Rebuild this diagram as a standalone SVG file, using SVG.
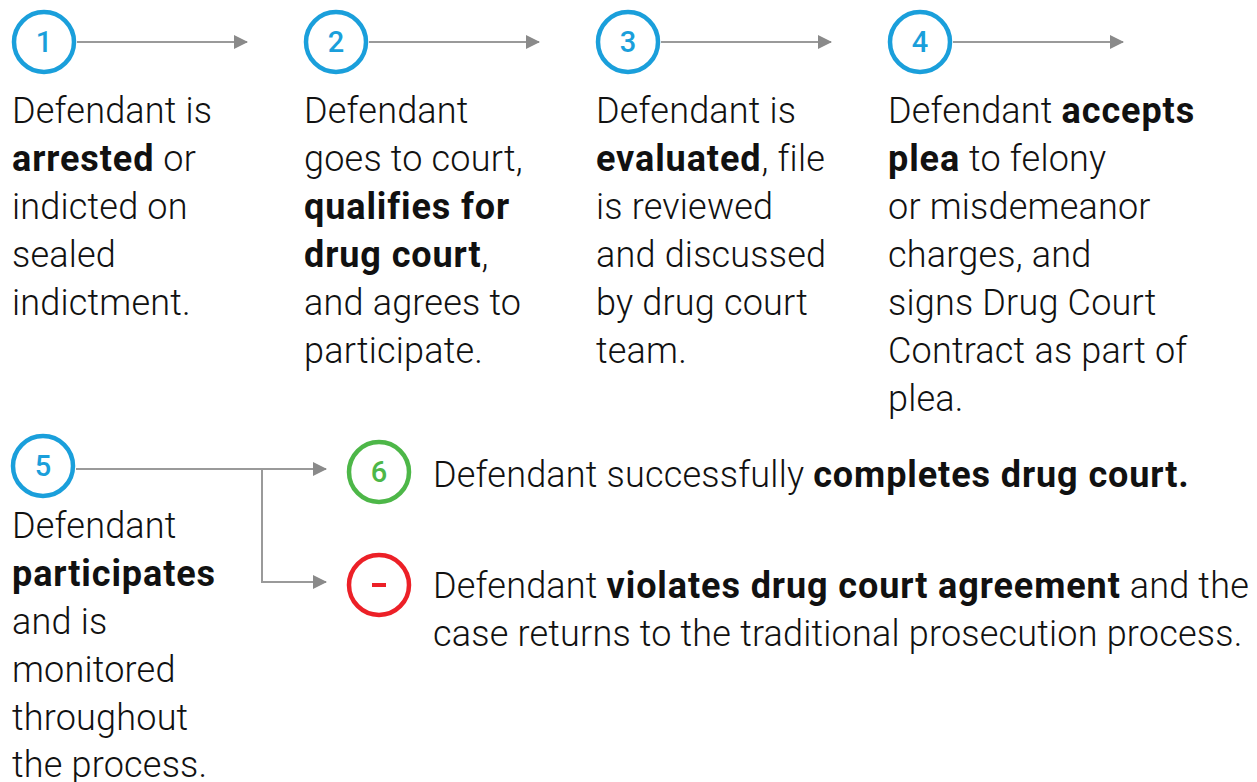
<svg xmlns="http://www.w3.org/2000/svg" width="1257" height="782" viewBox="0 0 1257 782">
<defs>
<style>
.t{font-family:Roboto,"Liberation Sans",sans-serif;font-size:36px;font-weight:300;fill:#111;letter-spacing:0.2px}
.b{font-weight:700;letter-spacing:0.9px}
.ring{fill:#fff;stroke-width:4.5}
.blue{stroke:#1a9fdb}
.num{font-family:Roboto,"Liberation Sans",sans-serif;font-size:29px;font-weight:500;text-anchor:middle}
.ln{fill:none;stroke:#9a9a9a;stroke-width:2}
</style>
<marker id="ah" markerWidth="14" markerHeight="14" refX="13" refY="7" orient="auto" markerUnits="userSpaceOnUse">
<path d="M0,0 L14,7 L0,14 Z" fill="#8a8a8a"/>
</marker>
</defs>
<rect width="1257" height="782" fill="#fff"/>
<g id="connectors">
<line class="ln" x1="77" y1="42" x2="247" y2="42" marker-end="url(#ah)"/>
<line class="ln" x1="369" y1="42" x2="539" y2="42" marker-end="url(#ah)"/>
<line class="ln" x1="661" y1="42" x2="831" y2="42" marker-end="url(#ah)"/>
<line class="ln" x1="953" y1="42" x2="1123" y2="42" marker-end="url(#ah)"/>
<line class="ln" x1="76" y1="469" x2="326" y2="469" marker-end="url(#ah)"/>
<polyline class="ln" points="262,469 262,582 326,582" marker-end="url(#ah)"/>
</g>
<g id="node1">
<circle class="ring blue" cx="44" cy="42" r="30"/>
<text class="num" x="44" y="52" fill="#1a9fdb">1</text>
<text class="t" x="12" y="123">Defendant is</text>
<text class="t" x="12" y="171"><tspan class="b">arrested</tspan> or</text>
<text class="t" x="12" y="219">indicted on</text>
<text class="t" x="12" y="267">sealed</text>
<text class="t" x="12" y="315">indictment.</text>
</g>
<g id="node2">
<circle class="ring blue" cx="336" cy="42" r="30"/>
<text class="num" x="336" y="52" fill="#1a9fdb">2</text>
<text class="t" x="304" y="123">Defendant</text>
<text class="t" x="304" y="171">goes to court,</text>
<text class="t" x="304" y="219"><tspan class="b">qualifies for</tspan></text>
<text class="t" x="304" y="267"><tspan class="b">drug court</tspan>,</text>
<text class="t" x="304" y="315">and agrees to</text>
<text class="t" x="304" y="363">participate.</text>
</g>
<g id="node3">
<circle class="ring blue" cx="628" cy="42" r="30"/>
<text class="num" x="628" y="52" fill="#1a9fdb">3</text>
<text class="t" x="596" y="123">Defendant is</text>
<text class="t" x="596" y="171"><tspan class="b">evaluated</tspan>, file</text>
<text class="t" x="596" y="219">is reviewed</text>
<text class="t" x="596" y="267">and discussed</text>
<text class="t" x="596" y="315">by drug court</text>
<text class="t" x="596" y="363">team.</text>
</g>
<g id="node4">
<circle class="ring blue" cx="920" cy="42" r="30"/>
<text class="num" x="920" y="52" fill="#1a9fdb">4</text>
<text class="t" x="888" y="123">Defendant <tspan class="b">accepts</tspan></text>
<text class="t" x="888" y="171"><tspan class="b">plea</tspan> to felony</text>
<text class="t" x="888" y="219">or misdemeanor</text>
<text class="t" x="888" y="267">charges, and</text>
<text class="t" x="888" y="315">signs Drug Court</text>
<text class="t" x="888" y="363">Contract as part of</text>
<text class="t" x="888" y="411">plea.</text>
</g>
<g id="node5">
<circle class="ring blue" cx="43" cy="466" r="30"/>
<text class="num" x="43" y="476" fill="#1a9fdb">5</text>
<text class="t" x="12" y="538">Defendant</text>
<text class="t" x="12" y="586"><tspan class="b">participates</tspan></text>
<text class="t" x="12" y="634">and is</text>
<text class="t" x="12" y="682">monitored</text>
<text class="t" x="12" y="730">throughout</text>
<text class="t" x="12" y="777">the process.</text>
</g>
<g id="node6">
<circle class="ring" cx="379" cy="472" r="30" stroke="#4db748"/>
<text class="num" x="379" y="482" fill="#4db748">6</text>
<text class="t" x="433" y="487">Defendant successfully <tspan class="b">completes drug court.</tspan></text>
</g>
<g id="node7">
<circle class="ring" cx="379" cy="585" r="30" stroke="#ec2027"/>
<rect x="372" y="583" width="14" height="4" fill="#ec2027"/>
<text class="t" x="433" y="598">Defendant <tspan class="b">violates drug court agreement</tspan> and the</text>
<text class="t" x="433" y="646">case returns to the traditional prosecution process.</text>
</g>
</svg>
